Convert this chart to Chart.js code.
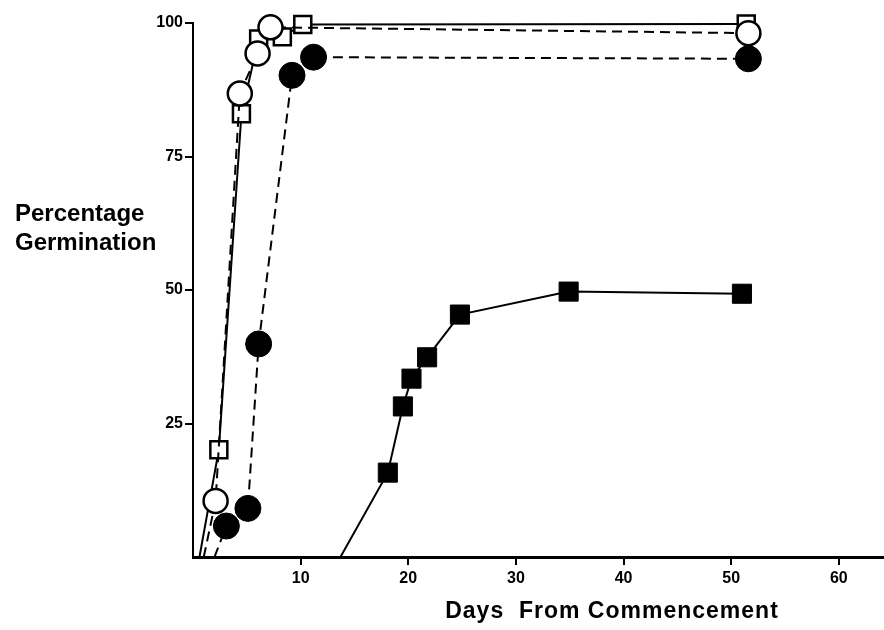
<!DOCTYPE html>
<html>
<head>
<meta charset="utf-8">
<title>Percentage Germination</title>
<script src="https://cdn.jsdelivr.net/npm/chart.js@4.4.1/dist/chart.umd.min.js"></script>
<style>
  html, body { margin: 0; padding: 0; background: #fff; overflow: hidden; }
  #wrap { position: relative; width: 884px; height: 630px; overflow: hidden; }
  #myChart { display: block; }
</style>
</head>
<body>
<div id="wrap"><canvas id="myChart" width="884" height="630"></canvas></div>
<script>
const dayTicks = [10, 20, 30, 40, 50, 60];
const pctTicks = [25, 50, 75, 100];

// open squares - solid line
const openSquareDays = [0.6, 2.4, 4.5, 6.1, 8.3, 10.2, 51.4];
const openSquarePct = [0, 20.1, 83.0, 97.0, 97.4, 99.7, 99.8];

// open circles - dashed line
const openCircleDays = [1.0, 2.1, 4.35, 6.0, 7.2, 51.6];
const openCirclePct = [0, 10.5, 86.8, 94.3, 99.2, 98.1];

// filled circles - dashed line
const filledCircleDays = [2.0, 3.1, 5.1, 6.1, 9.2, 11.2, 51.6];
const filledCirclePct = [0, 5.8, 9.1, 39.9, 90.2, 93.6, 93.3];

// filled squares - solid line
const filledSquareDays = [13.7, 18.1, 19.5, 20.3, 21.75, 24.8, 34.9, 51.0];
const filledSquarePct = [0, 15.8, 28.2, 33.4, 37.4, 45.4, 49.7, 49.3];

function toPoints(days, pct) {
  return days.map((d, i) => ({ x: d, y: pct[i] }));
}

// the line starts on the axis where germination is 0, no marker there
function makeSeries(days, pct, opts) {
  return {
    data: toPoints(days, pct),
    borderColor: '#000',
    borderWidth: 2,
    borderDash: opts.dashed ? [10, 6] : [],
    tension: 0,
    fill: false,
    clip: false,
    pointStyle: opts.style,
    pointRadius: pct.map((v) => (v === 0 ? 0 : opts.radius)),
    pointHoverRadius: pct.map((v) => (v === 0 ? 0 : opts.radius)),
    pointBackgroundColor: opts.filled ? '#000' : '#fff',
    pointBorderColor: '#000',
    pointBorderWidth: opts.filled ? 1 : 2.5,
    order: opts.order,
  };
}

const axisTitles = {
  id: 'axisTitles',
  afterDraw(chart) {
    const ctx = chart.ctx;
    ctx.save();
    ctx.fillStyle = '#000';
    ctx.textBaseline = 'alphabetic';
    ctx.font = 'bold 24px "Liberation Sans"';
    ctx.textAlign = 'left';
    ctx.fillText('Percentage', 15, 221);
    ctx.fillText('Germination', 15, 250);
    ctx.font = 'bold 23px "Liberation Sans"';
    ctx.textAlign = 'center';
    ctx.letterSpacing = '1px';
    ctx.fillText('Days  From Commencement', 612, 618);
    ctx.restore();
  },
};

const tickFont = { family: 'Liberation Sans', weight: 'bold', size: 16 };

const ctx = document.getElementById('myChart');

new Chart(ctx, {
  type: 'line',
  data: {
    datasets: [
      makeSeries(openCircleDays, openCirclePct, { style: 'circle', radius: 12, filled: false, dashed: true, order: 0 }),
      makeSeries(openSquareDays, openSquarePct, { style: 'rect', radius: 12, filled: false, dashed: false, order: 1 }),
      makeSeries(filledCircleDays, filledCirclePct, { style: 'circle', radius: 13, filled: true, dashed: true, order: 2 }),
      makeSeries(filledSquareDays, filledSquarePct, { style: 'rect', radius: 13.5, filled: true, dashed: false, order: 3 }),
    ],
  },
  options: {
    responsive: false,
    animation: false,
    events: [],
    layout: { autoPadding: false, padding: { top: 23, right: 0, bottom: 0, left: 0 } },
    plugins: {
      legend: { display: false },
      tooltip: { enabled: false },
    },
    scales: {
      x: {
        type: 'linear',
        min: 0,
        max: 64.2,
        afterBuildTicks: (scale) => {
          scale.ticks = dayTicks.map((v) => ({ value: v }));
        },
        afterFit: (scale) => {
          scale.height = 73;
          scale.paddingLeft = 0;
          scale.paddingRight = 0;
        },
        border: { display: true, color: '#000', width: 3 },
        grid: { drawOnChartArea: false, drawTicks: true, tickLength: 8, color: '#000', lineWidth: 2 },
        ticks: { color: '#000', font: tickFont, padding: 4, maxRotation: 0 },
      },
      y: {
        min: 0,
        max: 100,
        afterBuildTicks: (scale) => {
          scale.ticks = pctTicks.map((v) => ({ value: v }));
        },
        afterFit: (scale) => {
          scale.width = 193;
          scale.paddingTop = 0;
          scale.paddingBottom = 0;
        },
        border: { display: true, color: '#000', width: 2 },
        grid: { drawOnChartArea: false, drawTicks: true, tickLength: 8, color: '#000', lineWidth: 2 },
        ticks: { color: '#000', font: tickFont, padding: 2 },
      },
    },
  },
  plugins: [axisTitles],
});
</script>
</body>
</html>
